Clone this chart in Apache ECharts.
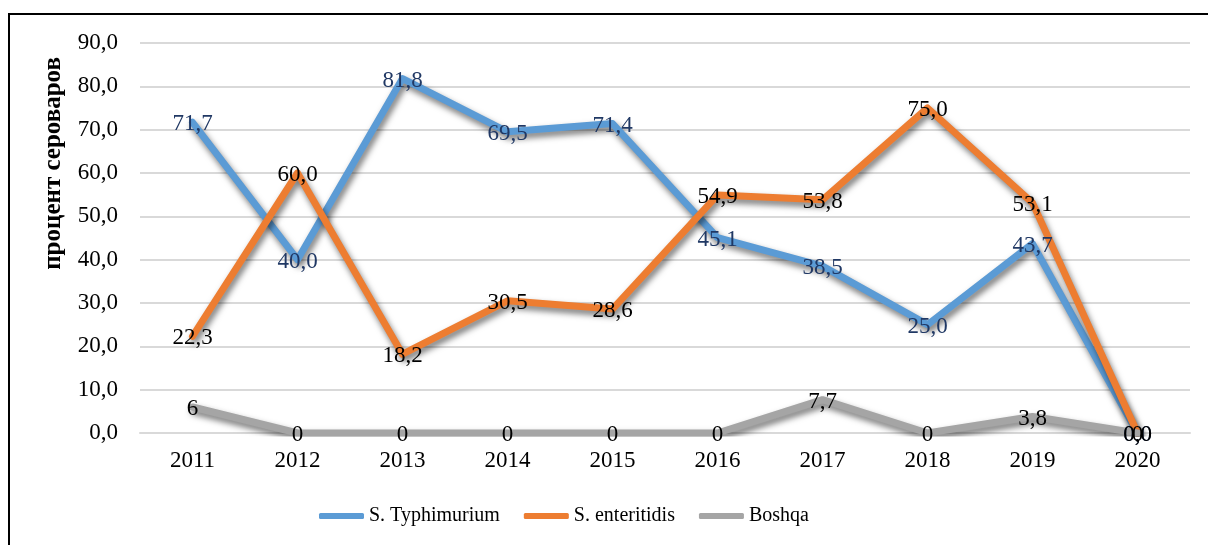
<!DOCTYPE html>
<html>
<head>
<meta charset="utf-8">
<script src="https://cdn.jsdelivr.net/npm/echarts@6/dist/echarts.min.js"></script>
<style>
  html, body { margin: 0; padding: 0; background: #fff; }
  #frame {
    position: absolute; left: 8px; top: 13px; width: 1200px; height: 532px;
    border-left: 2px solid #000; border-top: 2px solid #000;
  }
  #chart { position: absolute; left: 0; top: 0; width: 1208px; height: 545px; }
</style>
</head>
<body>
<div id="frame"></div>
<div id="chart"></div>
<script>
// годы
const years = ['2011', '2012', '2013', '2014', '2015', '2016', '2017', '2018', '2019', '2020']
// серовары, %
const typhimurium = [71.7, 40.0, 81.8, 69.5, 71.4, 45.1, 38.5, 25.0, 43.7, 0.0]
const enteritidis = [22.3, 60.0, 18.2, 30.5, 28.6, 54.9, 53.8, 75.0, 53.1, 0.0]
const boshqa = [6, 0, 0, 0, 0, 0, 7.7, 0, 3.8, 0]
const seriesNames = ['S. Typhimurium', 'S. enteritidis', 'Boshqa']
const seriesColors = ['#5B9BD5', '#ED7D31', '#A5A5A5']

const font = 'Liberation Serif'
const comma = v => v.toFixed(1).replace('.', ',')

function makeSeries (i, data, labelColor, fmt) {
  return {
    name: seriesNames[i],
    type: 'line',
    data: data,
    symbol: 'circle',
    symbolSize: 2,
    showSymbol: true,
    itemStyle: { color: 'rgba(0,0,0,0)' },
    lineStyle: {
      width: 7,
      color: seriesColors[i],
      cap: 'round',
      join: 'round',
      shadowColor: 'rgba(0,0,0,0.55)',
      shadowBlur: 6,
      shadowOffsetX: 2,
      shadowOffsetY: 4
    },
    label: {
      show: true,
      position: 'inside',
      offset: [0, 2],
      color: labelColor,
      fontFamily: font,
      fontSize: 23,
      formatter: p => fmt(p.value)
    },
    emphasis: { disabled: true }
  }
}

const chart = echarts.init(document.getElementById('chart'))
chart.setOption({
  animation: false,
  textStyle: { fontFamily: font },
  grid: { left: 140, right: 18, top: 43, bottom: 112 },
  legend: {
    bottom: 14,
    left: 314,
    itemWidth: 45,
    itemHeight: 6,
    itemGap: 24,
    textStyle: { fontFamily: font, fontSize: 20, color: '#000' },
    data: seriesNames.map((n, i) => ({ name: n, icon: 'roundRect', itemStyle: { color: seriesColors[i] } }))
  },
  graphic: [{
    type: 'text',
    left: 41,
    top: 57,
    rotation: Math.PI / 2,
    style: {
      text: 'процент сероваров',
      font: 'bold 25px "Liberation Serif"',
      fill: '#000'
    }
  }],
  xAxis: {
    type: 'category',
    data: years,
    axisLine: { lineStyle: { color: '#d9d9d9', width: 2 } },
    axisTick: { show: false },
    axisLabel: { color: '#000', fontSize: 23, fontFamily: font, margin: 16 }
  },
  yAxis: {
    type: 'value',
    min: 0,
    max: 90,
    interval: 10,
    axisLine: { show: false },
    axisTick: { show: false },
    splitLine: { lineStyle: { color: '#d9d9d9', width: 2 } },
    axisLabel: { color: '#000', fontSize: 23, fontFamily: font, margin: 22, formatter: v => comma(v) }
  },
  series: [
    makeSeries(0, typhimurium, '#203864', comma),
    makeSeries(1, enteritidis, '#000', comma),
    makeSeries(2, boshqa, '#000', v => String(v).replace('.', ','))
  ]
})
</script>
</body>
</html>
